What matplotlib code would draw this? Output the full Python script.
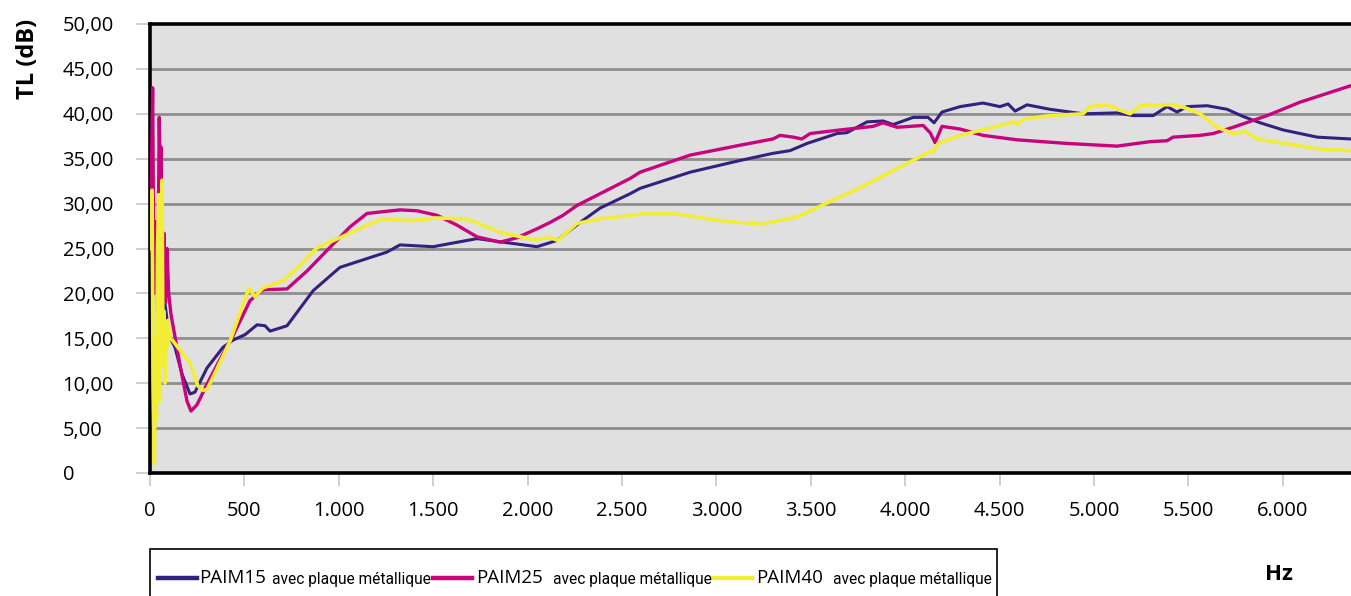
import matplotlib
matplotlib.use("Agg")
import matplotlib.pyplot as plt
from matplotlib.lines import Line2D
from matplotlib.patches import Rectangle

# ---------------- data (Hz, dB) ----------------
paim15_hz = [5, 26, 53, 79, 101, 132, 170, 212, 238, 302,
             387, 440, 503, 567, 609, 636, 726, 864, 1006, 1255,
             1324, 1499, 1732, 1907, 2050, 2156, 2278, 2384, 2543, 2596,
             2861, 3125, 3300, 3390, 3480, 3639, 3692, 3798, 3883, 3936,
             4042, 4121, 4153, 4195, 4291, 4412, 4502, 4545, 4582, 4645,
             4767, 4942, 5122, 5207, 5313, 5387, 5440, 5493, 5599, 5705,
             5790, 5880, 6002, 6182, 6356, 6420]
paim15_db = [33.4, 24.0, 20.0, 18.9, 15.3, 14.0, 11.0, 8.8, 9.0, 11.7,
             14.0, 14.8, 15.4, 16.5, 16.4, 15.8, 16.4, 20.3, 22.9, 24.6,
             25.4, 25.2, 26.1, 25.6, 25.2, 25.9, 27.9, 29.5, 31.1, 31.7,
             33.5, 34.8, 35.6, 35.9, 36.7, 37.8, 37.9, 39.1, 39.2, 38.8,
             39.6, 39.6, 39.0, 40.2, 40.8, 41.2, 40.8, 41.1, 40.3, 41.0,
             40.5, 40.0, 40.1, 39.8, 39.8, 40.8, 40.2, 40.8, 40.9, 40.5,
             39.7, 39.0, 38.2, 37.4, 37.2, 37.2]

paim25_hz = [5, 14, 21, 32, 40, 49, 56, 58, 66, 74,
             82, 90, 99, 111, 159, 196, 217, 249, 302, 387,
             440, 530, 599, 726, 832, 938, 1059, 1149, 1234, 1324,
             1414, 1520, 1626, 1732, 1854, 1944, 2050, 2119, 2188, 2262,
             2384, 2543, 2596, 2861, 3125, 3300, 3337, 3406, 3453, 3496,
             3655, 3830, 3883, 3957, 4095, 4132, 4158, 4195, 4291, 4412,
             4593, 4857, 5122, 5297, 5387, 5419, 5562, 5631, 5737, 5917,
             6092, 6356, 6420]
paim25_db = [30.0, 42.9, 20.0, 28.0, 18.0, 39.6, 30.0, 36.3, 22.0, 26.7,
             19.0, 25.0, 20.0, 17.7, 12.0, 8.0, 6.9, 7.6, 9.9, 13.3,
             15.3, 19.2, 20.4, 20.5, 22.5, 24.8, 27.4, 28.9, 29.1, 29.3,
             29.2, 28.7, 27.6, 26.3, 25.7, 26.2, 27.2, 27.9, 28.7, 29.8,
             31.1, 32.8, 33.5, 35.4, 36.5, 37.2, 37.6, 37.4, 37.2, 37.8,
             38.2, 38.6, 39.0, 38.5, 38.7, 37.9, 36.8, 38.6, 38.3, 37.6,
             37.1, 36.7, 36.4, 36.9, 37.0, 37.4, 37.6, 37.8, 38.5, 39.8,
             41.3, 43.1, 43.5]

paim40_hz = [3, 11, 16, 23, 29, 34, 40, 46, 50, 56,
             64, 69, 74, 79, 85, 90, 95, 106, 122, 212,
             254, 281, 302, 323, 424, 524, 556, 598, 705, 795,
             885, 1059, 1149, 1234, 1377, 1520, 1679, 1854, 2029, 2119,
             2161, 2262, 2384, 2633, 2808, 3019, 3231, 3427, 3639, 3745,
             3920, 4095, 4132, 4148, 4174, 4291, 4502, 4571, 4593, 4624,
             4767, 4942, 4979, 5069, 5138, 5191, 5244, 5366, 5419, 5493,
             5562, 5652, 5737, 5800, 5864, 6002, 6182, 6356, 6420]
paim40_db = [25.0, 31.5, 10.0, 1.0, 15.0, 6.0, 25.0, 31.0, 8.0, 20.0,
             32.6, 12.0, 18.0, 10.0, 16.0, 14.0, 17.0, 15.0, 14.7, 12.2,
             9.7, 9.2, 9.3, 10.2, 14.7, 20.6, 19.6, 20.6, 21.4, 23.1,
             25.1, 26.7, 27.6, 28.3, 28.1, 28.4, 28.3, 26.8, 26.0, 26.2,
             25.9, 27.8, 28.3, 28.9, 28.8, 28.1, 27.7, 28.5, 30.6, 31.6,
             33.5, 35.4, 35.8, 35.7, 36.7, 37.6, 38.7, 39.1, 38.8, 39.4,
             39.8, 40.0, 40.8, 41.0, 40.4, 40.0, 40.9, 41.0, 41.0, 40.6,
             40.0, 38.5, 37.8, 38.0, 37.2, 36.7, 36.1, 35.9, 35.9]

series_names = ["PAIM15", "PAIM25", "PAIM40"]
series_suffix = "avec plaque métallique"
colors = ["#34207f", "#c8047c", "#f2ee38"]
line_widths = [2.2, 2.4, 2.6]

y_ticks = [0, 5, 10, 15, 20, 25, 30, 35, 40, 45, 50]
y_labels = ["0", "5,00", "10,00", "15,00", "20,00", "25,00", "30,00", "35,00", "40,00", "45,00", "50,00"]
x_ticks = [0, 500, 1000, 1500, 2000, 2500, 3000, 3500, 4000, 4500, 5000, 5500, 6000]
x_labels = ["0", "500", "1.000", "1.500", "2.000", "2.500", "3.000", "3.500", "4.000",
            "4.500", "5.000", "5.500", "6.000"]

# ---------------- figure ----------------
W, H = 1351, 596
fig = plt.figure(figsize=(W / 100, H / 100), dpi=100)
plt.rcParams['font.family'] = ['Open Sans', 'DejaVu Sans']

xmax = 6500
px_per_hz = 0.1888
left_px, top_px, bottom_px = 150, 24, 473
right_px = left_px + xmax * px_per_hz
ax = fig.add_axes([left_px / W, 1 - bottom_px / H, (right_px - left_px) / W, (bottom_px - top_px) / H])
ax.set_facecolor("#e0e0e0")
ax.set_xlim(0, xmax)
ax.set_ylim(0, 50)

for y in y_ticks[1:-1]:
    ax.axhline(y, color="#8e8e8e", lw=2.0, zorder=1)

for xs, ys, c, lw in zip([paim15_hz, paim25_hz, paim40_hz], [paim15_db, paim25_db, paim40_db],
                         colors, line_widths):
    ax.plot(xs, ys, color=c, lw=lw, zorder=3, solid_joinstyle="round")

for s in ax.spines.values():
    s.set_linewidth(2.6)
    s.set_color("black")

ax.set_yticks(y_ticks)
ax.set_yticklabels(y_labels)
ax.set_xticks(x_ticks)
ax.set_xticklabels(x_labels)
ax.tick_params(axis="y", length=10, width=1.2, color="#c8c8c8", labelsize=14.5, pad=53)
ax.tick_params(axis="x", length=9, width=1.2, color="#c8c8c8", labelsize=14.5, pad=11)
for lab in ax.get_yticklabels():
    lab.set_horizontalalignment("left")

fig.text(28 / W, 1 - 59 / H, "TL (dB)", rotation=90, fontsize=17, fontweight="bold",
         ha="center", va="center")
fig.text(1279 / W, 1 - 574 / H, "Hz", fontsize=16, fontweight="bold", ha="center", va="center")

# ---------------- legend ----------------
fig.add_artist(Rectangle((150 / W, -0.05), (997 - 150) / W, 0.05 + 1 - 549 / H,
                         transform=fig.transFigure, facecolor="white", edgecolor="black",
                         lw=1.2, clip_on=False))
leg_y = 1 - 578 / H
line_x = [158, 433, 713]
name_x = [199, 476, 756]
suffix_x = [272, 553, 833]
for lx, nx, sx, name, c in zip(line_x, name_x, suffix_x, series_names, colors):
    fig.add_artist(Line2D([lx / W, (lx + 39) / W], [leg_y, leg_y], transform=fig.transFigure,
                          color=c, lw=3.2))
    fig.text(nx / W, leg_y, name, fontsize=13.5, ha="left", va="center",
             family=["Open Sans", "DejaVu Sans"])
    fig.text(sx / W, leg_y - 0.002, series_suffix, fontsize=11.2, ha="left", va="center",
             family=["Roboto", "DejaVu Sans"])

fig.savefig("out.png", dpi=100)
